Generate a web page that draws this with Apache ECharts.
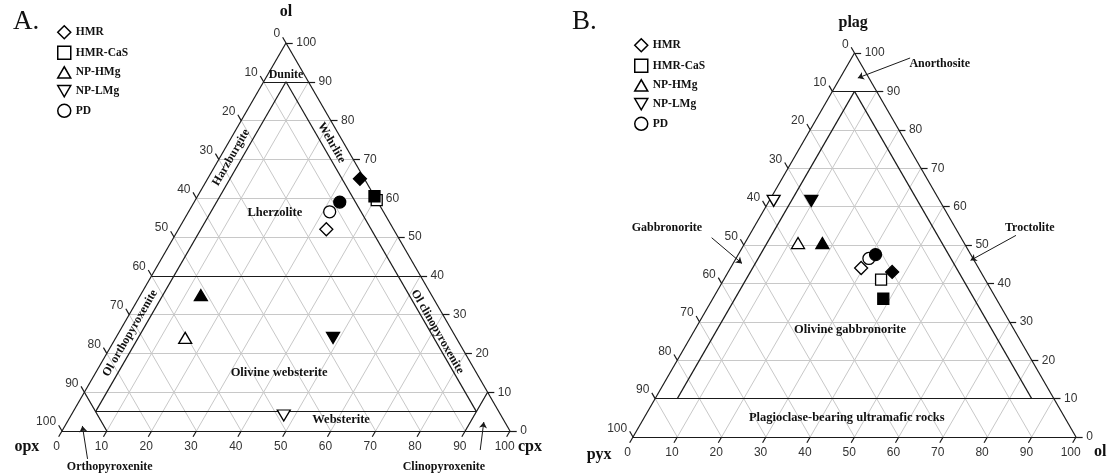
<!DOCTYPE html>
<html>
<head>
<meta charset="utf-8">
<script src="https://cdn.jsdelivr.net/npm/echarts@6/dist/echarts.min.js"></script>
<style>
  html, body { margin: 0; background: #fff; }
  #main { width: 1111px; height: 476px; }
</style>
</head>
<body>
<div id="main"></div>
<script>
// 分组（图例顺序）
var groups = ["HMR", "HMR-CaS", "NP-HMg", "NP-LMg", "PD"];
var tickValues = [0, 10, 20, 30, 40, 50, 60, 70, 80, 90, 100];

// A 图：ol / cpx 百分比，空心 与 实心
var aOpenOl = [52, 59.5, 24, 4, 56.5];
var aOpenCpx = [33, 40.5, 15.5, 47.5, 31.5];
var aFillOl = [65, 60.5, 35, 24, 59];
var aFillCpx = [34, 39.5, 13.5, 48.5, 32.5];

// B 图：plag / ol 百分比，空心 与 实心
var bOpenPlag = [44, 41, 50.5, 61.5, 46.5];
var bOpenOl = [29.5, 35.5, 12, 1, 30];
var bFillPlag = [43, 36, 50.5, 61.5, 47.5];
var bFillOl = [37, 38.5, 17.5, 9.5, 31];

var S3 = Math.sqrt(3) / 2;
var SERIF = "Liberation Serif";
var SANS = "Liberation Sans";

// 三角坐标 -> 直角坐标（top 顶点分量，right 右下分量，百分比）
function tern(top, right) {
  return [(right + top / 2) / 100, (top / 100) * S3];
}

var symbols = [
  "diamond",
  "rect",
  "path://M5,0L10,8.66L0,8.66Z",
  "path://M0,0L10,0L5,8.66Z",
  "circle",
];
var sizes = [13, 11, [13, 11], [13, 11], 12];

function linesSeries(p, segs, style, extra) {
  style.opacity = 1;
  var s = {
    type: "lines",
    coordinateSystem: "cartesian2d",
    xAxisIndex: p,
    yAxisIndex: p,
    polyline: false,
    silent: true,
    clip: false,
    symbol: "none",
    lineStyle: style,
    data: segs.map(function (c) {
      return { coords: c };
    }),
  };
  for (var k in extra) s[k] = extra[k];
  return s;
}

function textSeries(p, items) {
  return {
    type: "scatter",
    xAxisIndex: p,
    yAxisIndex: p,
    silent: true,
    clip: false,
    symbolSize: 1,
    itemStyle: { color: "rgba(0,0,0,0)", opacity: 1 },
    z: 5,
    data: items,
  };
}

// 网格线、边框、刻度
function frame(p) {
  var grid = [];
  var border = [[tern(100, 0), tern(0, 0)], [tern(0, 0), tern(0, 100)], [tern(0, 100), tern(100, 0)]];
  var tks = [];
  var labels = [];
  for (var v = 10; v < 100; v += 10) {
    grid.push([tern(v, 0), tern(v, 100 - v)]);
    grid.push([tern(0, v), tern(100 - v, v)]);
    grid.push([tern(0, 100 - v), tern(100 - v, 0)]);
  }
  tickValues.forEach(function (v) {
    // 左边
    var le = tern(100 - v, 0), lt = tern(100 - v + 1.5, -1.5);
    tks.push([le, lt]);
    labels.push({
      value: lt, name: String(v),
      label: { show: true, formatter: "{b}", position: "left", distance: 2, offset: [0, -3],
        fontFamily: SANS, fontSize: 12, color: "#333" },
    });
    // 右边
    var re = tern(v, 100 - v), rt = tern(v, 100 - v + 1.5);
    tks.push([re, rt]);
    labels.push({
      value: rt, name: String(v),
      label: { show: true, formatter: "{b}", position: "right", distance: 3,
        fontFamily: SANS, fontSize: 12, color: "#333" },
    });
    // 底边
    var be = tern(0, v), bt = tern(-1.5, v);
    tks.push([be, bt]);
    labels.push({
      value: bt, name: String(v),
      label: { show: true, formatter: "{b}", position: "bottom", distance: 3, offset: [-2, 0],
        fontFamily: SANS, fontSize: 12, color: "#333" },
    });
  });
  return [
    linesSeries(p, grid, { color: "#c8c8c8", width: 1 }, { z: 1 }),
    linesSeries(p, border.concat(tks), { color: "#1a1a1a", width: 1.2 }, { z: 3 }),
    textSeries(p, labels),
  ];
}

function rockText(pos, name, size, rot) {
  return {
    value: pos, name: name,
    label: {
      show: true, formatter: "{b}", position: "inside", rotate: rot || 0,
      fontFamily: SERIF, fontWeight: "bold",
      fontSize: size || 12.5, color: "#111",
    },
  };
}

var series = [];
series = series.concat(frame(0), frame(1));

// A 图分类线
series.push(linesSeries(0, [
  [tern(90, 0), tern(90, 10)],
  [tern(40, 0), tern(40, 60)],
  [tern(90, 5), tern(5, 5)],
  [tern(90, 5), tern(5, 90)],
  [tern(5, 5), tern(5, 90)],
  [tern(10, 0), tern(0, 10)],
  [tern(10, 90), tern(0, 90)],
], { color: "#1a1a1a", width: 1.2 }, { z: 3 }));

// B 图分类线
series.push(linesSeries(1, [
  [tern(90, 0), tern(90, 10)],
  [tern(10, 0), tern(10, 90)],
  [tern(90, 5), tern(10, 5)],
  [tern(90, 5), tern(10, 85)],
], { color: "#1a1a1a", width: 1.2 }, { z: 3 }));

// 箭头
series.push(linesSeries(0, [
  [tern(-7.2, 9.3), tern(1.3, 3.9)],
  [tern(-4.9, 95.8), tern(2.3, 93.0)],
], { color: "#1a1a1a", width: 1 }, { z: 3, symbol: ["none", "arrow"], symbolSize: 6 }));
series.push(linesSeries(1, [
  [tern(98.7, 13.2), tern(93.5, 4.0)],
  [tern(52.5, 60.2), tern(46, 53.2)],
  [tern(51.9, -8.2), tern(45.2, 2)],
], { color: "#1a1a1a", width: 1 }, { z: 3, symbol: ["none", "arrow"], symbolSize: 6 }));

// 文字
series.push(textSeries(0, [
  rockText(tern(108, -4), "ol", 16),
  rockText(tern(-4.1, -5.8), "opx", 16),
  rockText(tern(-4.1, 106.5), "cpx", 16),
  rockText(tern(91.8, 4.1), "Dunite", 12),
  rockText(tern(70.5, 2.5), "Harzburgite", 12, 60),
  rockText(tern(74.3, 23), "Wehrlite", 12, -60),
  rockText(tern(56.2, 19.4), "Lherzolite"),
  rockText(tern(25.2, 2.6), "Ol orthopyroxenite", 12, 60),
  rockText(tern(25.6, 71), "Ol clinopyroxenite", 12, -60),
  rockText(tern(14.9, 41.0), "Olivine websterite"),
  rockText(tern(2.8, 60.9), "Websterite"),
  rockText(tern(-9.3, 15.3), "Orthopyroxenite", 12),
  rockText(tern(-9.3, 89.9), "Clinopyroxenite", 12),
]));
series.push(textSeries(1, [
  rockText(tern(107.8, -4.2), "plag", 16),
  rockText(tern(-4.7, -5.3), "pyx", 16),
  rockText(tern(-3.9, 107.4), "ol", 16),
  rockText(tern(97.1, 20.7), "Anorthosite", 12),
  rockText(tern(54.5, 62.3), "Troctolite", 12),
  rockText(tern(54.5, -19.6), "Gabbronorite", 12),
  rockText(tern(27.8, 35.1), "Olivine gabbronorite"),
  rockText(tern(4.9, 45.8), "Plagioclase-bearing ultramafic rocks"),
]));

// 样品点
groups.forEach(function (g, i) {
  var base = {
    type: "scatter",
    name: g,
    symbol: symbols[i],
    symbolSize: sizes[i],
    clip: false,
    z: 10,
    itemStyle: { color: "#fff", borderColor: "#000", borderWidth: 1.3, opacity: 1 },
  };
  var a = Object.assign({}, base, {
    xAxisIndex: 0, yAxisIndex: 0,
    data: [
      { value: tern(aOpenOl[i], aOpenCpx[i]) },
      { value: tern(aFillOl[i], aFillCpx[i]), itemStyle: { color: "#000" } },
    ],
  });
  var b = Object.assign({}, base, {
    xAxisIndex: 1, yAxisIndex: 1,
    data: [
      { value: tern(bOpenPlag[i], bOpenOl[i]) },
      { value: tern(bFillPlag[i], bFillOl[i]), itemStyle: { color: "#000" } },
    ],
  });
  series.push(a, b);
});

var legendBase = {
  orient: "vertical",
  data: groups,
  padding: 0,
  itemWidth: 13,
  itemHeight: 13,
  itemGap: 6,
  selectedMode: false,
  itemStyle: { color: "#fff", borderColor: "#000", borderWidth: 1.5 },
  textStyle: { fontFamily: SERIF, fontWeight: "bold", fontSize: 11.5, color: "#111" },
};

var myChart = echarts.init(document.getElementById("main"));
var option = {
  animation: false,
  backgroundColor: "#fff",
  title: [
    { text: "A.", left: 8, top: 3, textStyle: { fontFamily: SERIF, fontWeight: "normal", fontSize: 27, color: "#111" } },
    { text: "B.", left: 567, top: 3, textStyle: { fontFamily: SERIF, fontWeight: "normal", fontSize: 27, color: "#111" } },
  ],
  legend: [
    Object.assign({}, legendBase, { left: 57, top: 25 }),
    Object.assign({}, legendBase, { left: 634, top: 38 }),
  ],
  grid: [
    { left: 62, top: 43, width: 448, height: 388 },
    { left: 633, top: 53, width: 443, height: 384 },
  ],
  xAxis: [
    { type: "value", gridIndex: 0, min: 0, max: 1, show: false },
    { type: "value", gridIndex: 1, min: 0, max: 1, show: false },
  ],
  yAxis: [
    { type: "value", gridIndex: 0, min: 0, max: S3, show: false },
    { type: "value", gridIndex: 1, min: 0, max: S3, show: false },
  ],
  series: series,
};
myChart.setOption(option);
window.onresize = myChart.resize;
</script>
</body>
</html>
